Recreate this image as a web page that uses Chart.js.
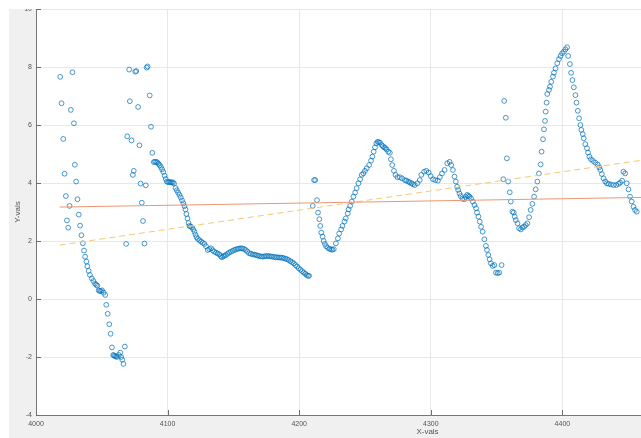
<!DOCTYPE html>
<html>
<head>
<meta charset="utf-8">
<script src="https://cdn.jsdelivr.net/npm/chart.js@4/dist/chart.umd.min.js"></script>
<style>
  body { margin: 0; background: #ffffff; }
  #fig { position: absolute; left: 9px; top: 9px; width: 632px; height: 429px; background: #f0f0f0; overflow: hidden; }
  #plot { position: absolute; left: 0; top: -20px; }
</style>
</head>
<body>
<div id="fig"><canvas id="plot" width="815" height="449"></canvas></div>
<script>
// sample positions and values
const xVals = [
  4018.4, 4019.4, 4020.7, 4021.7, 4022.7, 4023.5, 4024.5, 4025.5, 4026.5, 4027.7, 4028.8, 4029.5, 4030.5, 4031.5, 4032.5, 4033.5, 4034.5,
  4035.6, 4036.5, 4037.3, 4038.3, 4039, 4040, 4041, 4042.4, 4043.6, 4044.9, 4045.8, 4046.6, 4047.6, 4048.4, 4049.3, 4050.2, 4051.4,
  4052.6, 4053.4, 4054.5, 4055.7, 4056.7, 4057.7, 4058.7, 4059.3, 4060, 4060.8, 4061.5, 4063, 4064, 4064.7, 4065.5, 4066.5, 4067.5,
  4068.5, 4069.3, 4070.8, 4071.3, 4072.6, 4073.6, 4074.3, 4075.4, 4076.2, 4077.6, 4078.6, 4079.4, 4080.4, 4081.3, 4082.4, 4083.4,
  4084.1, 4084.8, 4086.4, 4087.4, 4088.4,
  4089.5, 4090.4, 4091.3, 4092.2, 4093.1, 4094, 4094.9, 4095.8, 4096.7, 4097.7, 4098.6, 4099.5, 4100.4, 4101.3, 4102.2, 4103.1,
  4104, 4104.9, 4106, 4107, 4108, 4109, 4110, 4111, 4112, 4112.8, 4113.6, 4114.3, 4115.1, 4115.9, 4116.6, 4117.5, 4118.5, 4119.5,
  4120.4, 4121.2, 4122, 4123, 4124.2, 4125.4, 4126.7, 4128, 4129.2, 4130.5, 4131.7, 4133, 4134.2, 4135.5, 4136.8, 4138, 4139.3,
  4140.3, 4141.3, 4142.3, 4143.3, 4144.3, 4145.6, 4146.8, 4148.1, 4149.4, 4150.6, 4151.9, 4153.2, 4154.4, 4155.7, 4156.9, 4158.2,
  4159.4, 4160.6, 4161.9, 4163.2, 4164.5, 4165.8, 4167, 4168.3, 4169.5, 4170.8, 4172, 4173.3, 4174.5, 4175.8, 4177, 4178.3, 4179.5,
  4180.8, 4182.1, 4183.3, 4184.6, 4185.8, 4187.1, 4188.3, 4189.6, 4190.8, 4192.1, 4193.4, 4194.6, 4195.9, 4197.2, 4198.4, 4199.7,
  4201, 4202.2, 4203.5, 4204.6, 4205.7, 4206.7, 4207.5,
  4210.3, 4211.3, 4212.2, 4213.5, 4214.3, 4215.3, 4216, 4216.8, 4217.8, 4218.6, 4219.5, 4220.5, 4221.8, 4223, 4224.2, 4225.2,
  4226.3, 4227.9, 4229.4, 4230.4, 4231.9, 4232.9, 4234.4, 4235.4, 4236.9, 4237.5, 4238.7, 4240, 4241.2, 4242.5, 4243.7, 4245,
  4246.3, 4247.5, 4248.8, 4250, 4251.3, 4253.1, 4254.6, 4255.6, 4256.6, 4257.6, 4258.6, 4259.6, 4260.5, 4261.4, 4262.6, 4263.6,
  4264.6, 4265.5, 4266.4, 4267.7, 4268.9, 4269.7, 4270.7, 4272, 4273.2, 4274.7, 4276.5, 4278.2, 4280.3, 4281.5, 4282.8, 4284,
  4285.3, 4286.5, 4287.8, 4289.8, 4291.6, 4292.8, 4294.9, 4296.6, 4298.4, 4299.9, 4301.7, 4303.4, 4305.4, 4306.9, 4308.5, 4310.5,
  4312.5, 4314.3, 4315.5, 4316.8, 4318, 4319, 4320, 4320.8, 4321.8, 4322.8, 4324, 4325.5, 4326.5, 4327.6, 4328.5, 4329.4, 4330.6,
  4331.9, 4333.2, 4334.4, 4335.1, 4336.2, 4337.2, 4338.2, 4339.4, 4340.7, 4341.9, 4342.7, 4343.7, 4344.7, 4345.7, 4347, 4348.3,
  4349.5, 4350.8, 4352, 4353.8,
  4355.1, 4355.8, 4357, 4357.8, 4358.8, 4360, 4360.8, 4362, 4363, 4363.8, 4364.6, 4365.9, 4367.1, 4368.4, 4369.6, 4370.9, 4372.1,
  4373.4, 4374.7, 4375.9, 4377.2, 4378.5, 4379.7, 4381, 4382.2, 4383.5, 4384.2, 4385.3, 4386, 4386.8, 4387.3, 4388, 4388.5, 4389.8,
  4390.6, 4391.5, 4392.8, 4393.6, 4394.8, 4396.1, 4397.4, 4398.6, 4399.8, 4401.1, 4402.3, 4403.6, 4404.4, 4405.7, 4406.6, 4407.6,
  4408.7, 4409.9, 4410.7, 4411.7, 4412.7, 4413.7, 4414.4, 4415.5, 4416.2, 4417.4, 4418.7, 4419.5, 4420.5, 4421.7, 4423.3, 4425,
  4426.8, 4428, 4428.8, 4430, 4431.3, 4432.6, 4433.8, 4435.1, 4436.9, 4438.9, 4440.9, 4442.7, 4443.9, 4445.4, 4446.4, 4447.7,
  4448.9, 4450.2, 4451.4, 4452.7, 4454, 4455.2, 4456.5
];
const yVals = [
  7.66, 6.75, 5.52, 4.32, 3.55, 2.71, 2.46, 3.21, 6.52, 7.82, 6.06, 4.63, 4.05, 3.44, 2.91, 2.53, 2.20,
  1.92, 1.67, 1.46, 1.29, 1.13, 0.97, 0.83, 0.71, 0.62, 0.53, 0.49, 0.46, 0.30, 0.28, 0.27, 0.30, 0.22,
  0.14, -0.20, -0.51, -0.87, -1.20, -1.67, -1.93, -1.95, -1.97, -1.98, -2.00, -1.93, -1.85, -2.00, -2.09, -2.24, -1.64,
  1.90, 5.61, 7.91, 6.82, 5.47, 4.28, 4.42, 7.84, 7.86, 6.62, 5.30, 3.98, 3.32, 2.69, 1.91, 3.92,
  7.98, 8.02, 7.02, 5.94, 5.04,
  4.72, 4.73, 4.73, 4.71, 4.66, 4.62, 4.55, 4.47, 4.38, 4.25, 4.14, 4.05, 4.03, 4.03, 4.03, 4.02,
  4.02, 3.98, 3.83, 3.75, 3.67, 3.59, 3.50, 3.40, 3.30, 3.20, 3.09, 2.93, 2.78, 2.62, 2.52, 2.50, 2.47, 2.40,
  2.32, 2.22, 2.13, 2.07, 2.03, 1.98, 1.94, 1.90, 1.82, 1.69, 1.72, 1.75, 1.68, 1.63, 1.60, 1.57, 1.54,
  1.48, 1.44, 1.47, 1.50, 1.52, 1.56, 1.60, 1.63, 1.66, 1.69, 1.71, 1.73, 1.74, 1.75, 1.74, 1.72,
  1.69, 1.64, 1.58, 1.56, 1.54, 1.53, 1.52, 1.50, 1.48, 1.47, 1.46, 1.47, 1.48, 1.48, 1.48, 1.47, 1.46,
  1.45, 1.44, 1.44, 1.43, 1.43, 1.42, 1.41, 1.39, 1.37, 1.34, 1.30, 1.27, 1.23, 1.17, 1.12, 1.06,
  1.01, 0.96, 0.91, 0.87, 0.83, 0.80, 0.80,
  3.21, 4.10, 4.10, 3.41, 2.98, 2.75, 2.52, 2.29, 2.15, 2.00, 1.90, 1.82, 1.76, 1.73, 1.71, 1.70,
  1.72, 1.92, 2.09, 2.26, 2.40, 2.52, 2.67, 2.78, 2.95, 3.09, 3.21, 3.36, 3.53, 3.67, 3.82, 3.99,
  4.13, 4.28, 4.33, 4.42, 4.51, 4.62, 4.77, 4.91, 5.08, 5.23, 5.37, 5.42, 5.41, 5.39, 5.31, 5.27,
  5.23, 5.20, 5.16, 5.08, 5.04, 4.82, 4.62, 4.42, 4.28, 4.20, 4.20, 4.16, 4.10, 4.08, 4.05, 4.02,
  3.99, 3.96, 3.93, 3.99, 4.10, 4.28, 4.39, 4.42, 4.36, 4.24, 4.13, 4.10, 4.08, 4.20, 4.33, 4.45,
  4.68, 4.73, 4.62, 4.45, 4.22, 4.05, 3.87, 3.76, 3.64, 3.55, 3.46, 3.44, 3.52, 3.59, 3.56, 3.53, 3.47,
  3.36, 3.24, 3.13, 2.98, 2.84, 2.67, 2.49, 2.32, 2.06, 1.83, 1.69, 1.52, 1.37, 1.23, 1.14, 1.17,
  0.91, 0.89, 0.91, 1.17,
  4.13, 6.83, 6.25, 4.85, 4.05, 3.68, 3.36, 3.01, 2.98, 2.84, 2.72, 2.61, 2.44, 2.40, 2.47, 2.49, 2.55,
  2.61, 2.82, 3.07, 3.28, 3.53, 3.78, 4.05, 4.33, 4.64, 5.08, 5.51, 5.85, 6.14, 6.46, 6.77, 7.07, 7.21,
  7.32, 7.49, 7.67, 7.80, 7.95, 8.13, 8.27, 8.38, 8.47, 8.53, 8.61, 8.68, 8.38, 8.10, 7.80, 7.55,
  7.30, 7.03, 6.77, 6.49, 6.23, 6.00, 5.83, 5.69, 5.54, 5.34, 5.20, 5.05, 4.91, 4.82, 4.76, 4.70,
  4.64, 4.54, 4.45, 4.31, 4.16, 4.05, 3.99, 3.97, 3.95, 3.93, 3.93, 3.97, 4.01, 4.08, 4.39, 4.33,
  3.99, 3.78, 3.53, 3.36, 3.18, 3.07, 3.01
];

// end points of the two fitted lines
const fitX = [4018, 4470];
const fitY = [3.17, 3.51];
const trendX = [4018, 4470];
const trendY = [1.86, 4.85];

const xTicks = [4000, 4100, 4200, 4300, 4400, 4500];
const yTicks = [-4, -2, 0, 2, 4, 6, 8, 10];

function toPoints(xs, ys) {
    return xs.map(function (x, i) { return { x: x, y: ys[i] }; });
}

document.addEventListener("DOMContentLoaded", function () {
    const ctx = document.getElementById('plot').getContext('2d');
    const tickFont = { family: 'Liberation Sans', size: 7 };
    const titleFont = { family: 'Liberation Sans', size: 8 };

    // white axes box + inward tick marks like the original figure
    const axesBox = {
        id: 'axesBox',
        beforeDraw(chart) {
            const a = chart.chartArea;
            chart.ctx.save();
            chart.ctx.fillStyle = '#ffffff';
            chart.ctx.fillRect(a.left, a.top, a.right - a.left, a.bottom - a.top);
            chart.ctx.restore();
        },
        afterDraw(chart) {
            const a = chart.chartArea;
            const c = chart.ctx;
            c.save();
            c.strokeStyle = '#6e6e6e';
            c.lineWidth = 1;
            c.beginPath();
            chart.scales.x.ticks.forEach(function (t) {
                const px = Math.round(chart.scales.x.getPixelForValue(t.value)) + 0.5;
                c.moveTo(px, a.bottom);
                c.lineTo(px, a.bottom - 5);
            });
            chart.scales.y.ticks.forEach(function (t) {
                const py = Math.round(chart.scales.y.getPixelForValue(t.value)) + 0.5;
                c.moveTo(a.left, py);
                c.lineTo(a.left + 5, py);
            });
            c.stroke();
            c.restore();
        }
    };

    function plainLabel(value) {
        return String(value);
    }

    new Chart(ctx, {
        type: 'scatter',
        data: {
            datasets: [{
                label: 'data',
                data: toPoints(xVals, yVals),
                borderColor: 'rgba(0, 114, 189, 0.72)',
                backgroundColor: 'rgba(0, 0, 0, 0)',
                borderWidth: 1,
                pointRadius: 2.4,
                order: 2
            }, {
                label: 'fit',
                data: toPoints(fitX, fitY),
                showLine: true,
                borderColor: '#ee9776',
                borderWidth: 1,
                pointRadius: 0,
                order: 1
            }, {
                label: 'trend',
                data: toPoints(trendX, trendY),
                showLine: true,
                borderColor: '#f5c874',
                borderWidth: 1,
                borderDash: [6, 4],
                pointRadius: 0,
                order: 1
            }]
        },
        options: {
            responsive: false,
            animation: false,
            devicePixelRatio: 1,
            layout: { padding: { top: 20, left: 0, right: 0, bottom: 0 } },
            plugins: { legend: { display: false }, tooltip: { enabled: false } },
            scales: {
                x: {
                    type: 'linear',
                    min: 4000,
                    max: 4595,
                    afterBuildTicks: function (scale) { scale.ticks = xTicks.map(function (v) { return { value: v }; }); },
                    afterFit: function (scale) { scale.height = 23; },
                    ticks: { font: tickFont, color: '#555555', padding: 5, maxRotation: 0, callback: plainLabel },
                    grid: { color: '#e8e8e8', drawTicks: false },
                    border: { color: '#777777' },
                    title: { display: true, text: 'X-vals', font: titleFont, color: '#555555', padding: { top: 0, bottom: 1 } }
                },
                y: {
                    min: -4,
                    max: 10,
                    afterBuildTicks: function (scale) { scale.ticks = yTicks.map(function (v) { return { value: v }; }); },
                    afterFit: function (scale) { scale.width = 27; },
                    ticks: { font: tickFont, color: '#555555', padding: 4, callback: plainLabel },
                    grid: { color: '#e8e8e8', drawTicks: false },
                    border: { color: '#777777' },
                    title: { display: true, text: 'Y-vals', font: titleFont, color: '#555555', padding: { top: 4, bottom: 0 } }
                }
            }
        },
        plugins: [axesBox]
    });
});
</script>
</body>
</html>
